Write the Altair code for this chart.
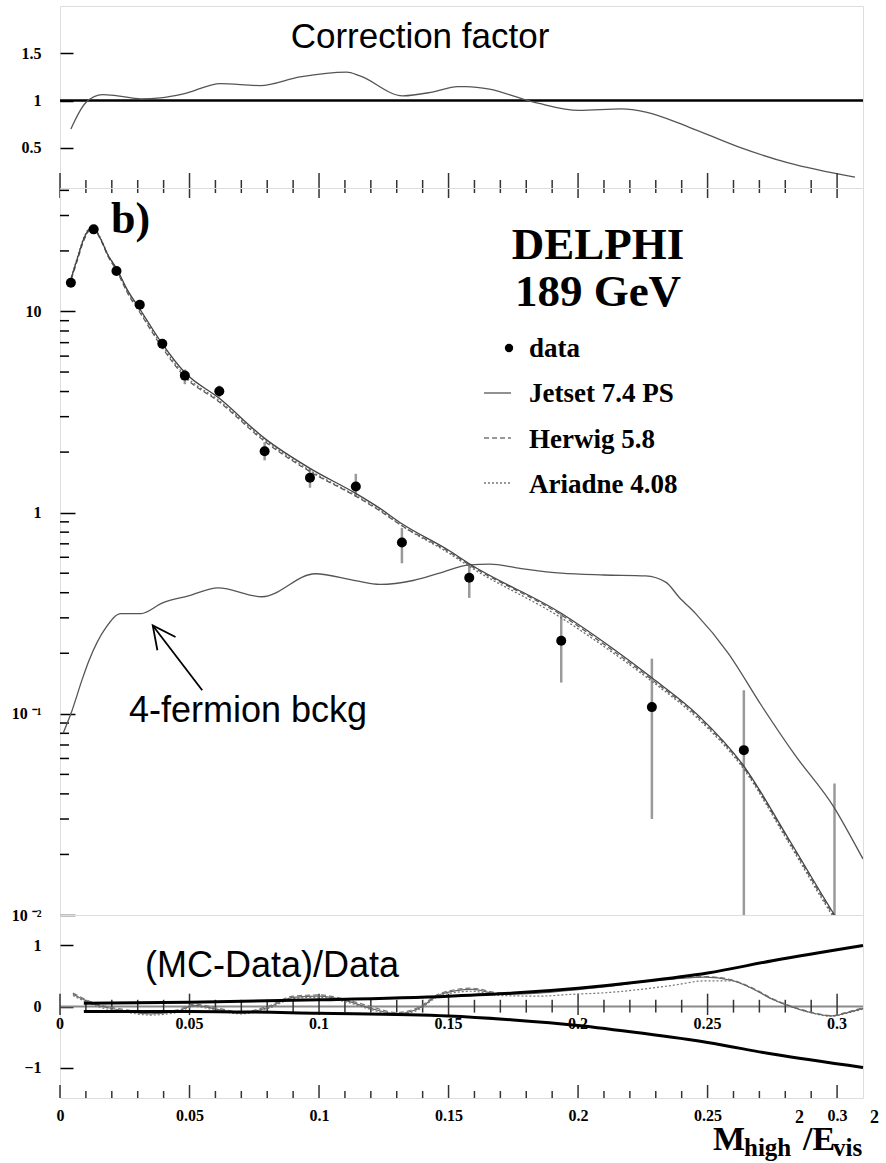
import altair as alt
import pandas as pd

# ---------------- values ----------------
# top panel: correction factor
corr_x = [0.0042, 0.0100, 0.0164, 0.0222, 0.0312, 0.0388, 0.0477, 0.0619, 0.0773,
          0.0927, 0.1107, 0.1158, 0.1323, 0.1438, 0.1535, 0.1568, 0.1658, 0.1785,
          0.1850, 0.2004, 0.2169, 0.2262, 0.2427, 0.2619, 0.2812, 0.3069]
corr_y = [0.70, 0.98, 1.063, 1.05, 1.018, 1.028, 1.07, 1.18, 1.158,
          1.25, 1.30, 1.26, 1.05, 1.09, 1.147, 1.147, 1.12, 1.018,
          0.97, 0.895, 0.912, 0.877, 0.72, 0.51, 0.34, 0.19]

# main panel: data points with error bars
data_x = [0.0042, 0.0130, 0.0218, 0.0308, 0.0395, 0.0482, 0.0615, 0.0790,
          0.0965, 0.1142, 0.1320, 0.1580, 0.1935, 0.2285, 0.2640, 0.2990]
data_y = [13.9, 25.6, 15.9, 10.8, 6.91, 4.80, 4.01, 2.02,
          1.49, 1.35, 0.711, 0.475, 0.231, 0.108, 0.066, None]
data_lo = [13.3, 24.7, 15.2, 10.3, 6.55, 4.35, 3.75, 1.82,
           1.33, 1.20, 0.56, 0.377, 0.143, 0.030, 0.001, 0.001]
data_hi = [14.5, 26.5, 16.6, 11.3, 7.25, 5.15, 4.28, 2.24,
           1.66, 1.56, 0.84, 0.557, 0.315, 0.188, 0.131, 0.045]

# main panel: MC predictions
mc_x = [0.0035, 0.0065, 0.0095, 0.0125, 0.0155, 0.0185, 0.0218, 0.0260, 0.0310,
        0.0395, 0.0480, 0.0615, 0.0790, 0.0965, 0.1140, 0.1235, 0.1320, 0.1500,
        0.1580, 0.1935, 0.2130, 0.2285, 0.2465, 0.2640, 0.2812, 0.2990, 0.3030]
jetset = [13.5, 18.0, 23.5, 26.3, 23.2, 19.1, 16.4, 12.8, 10.2,
          6.9, 5.0, 3.7, 2.34, 1.66, 1.25, 1.05, 0.88, 0.65,
          0.557, 0.316, 0.213, 0.151, 0.098, 0.055, 0.024, 0.0100, 0.0083]
herwig = [13.3, 17.6, 23.0, 26.0, 23.0, 18.8, 16.0, 12.4, 9.8,
          6.6, 4.75, 3.55, 2.26, 1.60, 1.21, 1.02, 0.86, 0.64,
          0.55, 0.31, 0.208, 0.148, 0.096, 0.054, 0.0235, 0.0098, 0.0082]
ariadne = [13.6, 18.2, 23.8, 26.5, 23.4, 19.2, 16.3, 12.6, 10.0,
           6.75, 4.85, 3.6, 2.3, 1.62, 1.22, 1.03, 0.86, 0.63,
           0.54, 0.30, 0.203, 0.145, 0.094, 0.053, 0.023, 0.0096, 0.0081]

# main panel: 4-fermion background
bg_x = [0.0012, 0.0042, 0.0087, 0.0112, 0.0177, 0.0235, 0.0312, 0.0396, 0.0496,
        0.0610, 0.0780, 0.0985, 0.1140, 0.1235, 0.1363, 0.1465, 0.1580, 0.1660,
        0.1770, 0.1935, 0.2100, 0.2260, 0.2340, 0.2390, 0.2454, 0.2580, 0.2708,
        0.2835, 0.2990, 0.3073, 0.3100]
bg_y = [0.080, 0.100, 0.150, 0.184, 0.268, 0.315, 0.315, 0.356, 0.386,
        0.423, 0.382, 0.497, 0.459, 0.440, 0.460, 0.500, 0.550, 0.555,
        0.530, 0.500, 0.490, 0.485, 0.450, 0.380, 0.315, 0.200, 0.110,
        0.063, 0.034, 0.022, 0.019]

# annotation arrow (data coordinates)
arrow_seg = ["shaft", "shaft", "head", "head", "head"]
arrow_ord = [0, 1, 0, 1, 2]
arrow_x = [0.0549, 0.0358, 0.0376, 0.0358, 0.0446]
arrow_y = [0.131, 0.275, 0.207, 0.275, 0.241]

# bottom panel: (MC-Data)/Data
env_x = [0.0092, 0.05, 0.10, 0.15, 0.175, 0.20, 0.225, 0.25, 0.275, 0.31]
env_up = [0.055, 0.07, 0.11, 0.17, 0.22, 0.30, 0.41, 0.55, 0.75, 1.0]
env_dn = [-0.08, -0.08, -0.11, -0.155, -0.22, -0.31, -0.44, -0.59, -0.78, -1.0]

r_x = [0.005, 0.013, 0.025, 0.035, 0.045, 0.052, 0.060, 0.070, 0.080, 0.090, 0.100,
       0.110, 0.120, 0.130, 0.138, 0.147, 0.159, 0.170, 0.185, 0.198, 0.212, 0.224,
       0.237, 0.249, 0.259, 0.267, 0.275, 0.282, 0.288, 0.298, 0.304, 0.310]
r_jetset = [0.20, 0.04, -0.07, -0.12, -0.08, 0.02, -0.04, -0.11, -0.02, 0.15, 0.17,
            0.10, -0.03, -0.12, -0.04, 0.20, 0.28, 0.20, 0.22, 0.27, 0.33, 0.40,
            0.45, 0.48, 0.43, 0.30, 0.12, 0.00, -0.08, -0.155, -0.10, -0.03]
r_herwig = [0.22, 0.06, -0.05, -0.10, -0.06, 0.04, -0.02, -0.09, 0.00, 0.17, 0.19,
            0.12, 0.00, -0.10, -0.02, 0.22, 0.30, 0.22, 0.24, 0.28, 0.34, 0.41,
            0.46, 0.49, 0.44, 0.31, 0.13, 0.01, -0.07, -0.15, -0.09, -0.02]
r_ariadne = [0.18, 0.02, -0.09, -0.14, -0.10, 0.00, -0.06, -0.12, -0.04, 0.13, 0.15,
             0.08, -0.05, -0.14, -0.06, 0.18, 0.25, 0.18, 0.17, 0.20, 0.23, 0.28,
             0.35, 0.42, 0.42, 0.30, 0.12, 0.00, -0.08, -0.16, -0.11, -0.04]

# axis ticks and labels
minor_ticks = [0.01, 0.02, 0.03, 0.04, 0.06, 0.07, 0.08, 0.09, 0.11, 0.12, 0.13, 0.14,
               0.16, 0.17, 0.18, 0.19, 0.21, 0.22, 0.23, 0.24, 0.26, 0.27, 0.28, 0.29]
major_ticks = [0.0, 0.05, 0.10, 0.15, 0.20, 0.25, 0.30]
major_labels = ["0", "0.05", "0.1", "0.15", "0.2", "0.25", "0.3"]
log_minor = [0.02, 0.03, 0.04, 0.05, 0.06, 0.07, 0.08, 0.09,
             0.2, 0.3, 0.4, 0.5, 0.6, 0.7, 0.8, 0.9,
             2, 3, 4, 5, 6, 7, 8, 9, 20, 30, 40]

# ---------------- layout ----------------
W = 803
H_TOP, H_MAIN, H_BOT = 182, 727, 183
SERIF = "Liberation Serif"
SANS = "Liberation Sans"
one = pd.DataFrame({"k": [0]})

xscale = alt.Scale(domain=[0.0, 0.31], nice=False, zero=False)


def X(f="x", axis=None):
    return alt.X(f"{f}:Q", scale=xscale, axis=axis)


def yaxis_common(ts):
    return dict(orient="left", offset=-ts, tickSize=ts, tickColor="black", tickWidth=1.5,
                domain=False, grid=False, labelFont=SERIF, labelFontWeight="bold",
                labelFontSize=16, labelColor="black", labelPadding=19, title=None,
                minExtent=54 + ts, labelFlush=False, labelOverlap=False, labelBound=False)


def label(txt, x, y, size, font=SANS, weight="normal", align="left", baseline="alphabetic"):
    return alt.Chart(one).mark_text(
        text=txt, font=font, fontSize=size, fontWeight=weight, align=align,
        baseline=baseline, color="black"
    ).encode(x=alt.value(x), y=alt.value(y))


minor_df = pd.DataFrame({"x": minor_ticks})
major_df = pd.DataFrame({"x": major_ticks, "lab": major_labels})

# ---------- top panel ----------
top_ys = alt.Scale(domain=[0.075, 2.0], nice=False, zero=False)
top_ya = alt.Axis(values=[0.5, 1.0, 1.5], format="~g", **yaxis_common(13))


def Yt(f):
    return alt.Y(f"{f}:Q", scale=top_ys, axis=top_ya)


corr_df = pd.DataFrame({"x": corr_x, "y": corr_y})
unity_df = pd.DataFrame({"y": [1.0]})

top = alt.layer(
    alt.Chart(unity_df).mark_rule(color="black", strokeWidth=2.5).encode(y=Yt("y")),
    alt.Chart(corr_df).mark_line(color="#555", strokeWidth=1.3, interpolate="monotone").encode(
        x=X(), y=Yt("y")),
    alt.Chart(minor_df).mark_rule(color="#333", strokeWidth=1.5).encode(
        x=X(), y=alt.value(H_TOP - 8), y2=alt.value(H_TOP + 5)),
    alt.Chart(major_df).mark_rule(color="#333", strokeWidth=1.5).encode(
        x=X(), y=alt.value(H_TOP - 15), y2=alt.value(H_TOP + 10)),
    label("Correction factor", 360, 42, 35, align="center"),
).properties(width=W, height=H_TOP)

# ---------- main panel ----------
main_ys = alt.Scale(type="log", domain=[0.01, 41.1], nice=False)
main_ya = alt.Axis(
    values=[0.01, 0.1, 1, 10],
    labelExpr="datum.value > 5 ? '10' : datum.value > 0.5 ? '1' : datum.value > 0.05 ? '10 ⁻¹' : '10 ⁻²'",
    **yaxis_common(15))


def Ym(f):
    return alt.Y(f"{f}:Q", scale=main_ys, axis=main_ya)


pts_df = pd.DataFrame({"x": data_x, "y": data_y, "lo": data_lo, "hi": data_hi})
mc_df = pd.DataFrame({"x": mc_x, "jetset": jetset, "herwig": herwig, "ariadne": ariadne})
bg_df = pd.DataFrame({"x": bg_x, "y": bg_y})
arrow_df = pd.DataFrame({"seg": arrow_seg, "o": arrow_ord, "x": arrow_x, "y": arrow_y})
logminor_df = pd.DataFrame({"v": log_minor})

main_layers = [
    alt.Chart(logminor_df).mark_rule(color="black", strokeWidth=1.5).encode(
        y=Ym("v"), x=alt.value(0), x2=alt.value(9)),
    alt.Chart(pts_df).mark_rule(color="#9a9a9a", strokeWidth=2.5, clip=True).encode(
        x=X(), y=Ym("lo"), y2="hi:Q"),
    alt.Chart(bg_df).mark_line(color="#555", strokeWidth=1.3, interpolate="monotone", clip=True).encode(
        x=X(), y=Ym("y")),
    alt.Chart(mc_df).mark_line(color="#555", strokeWidth=1.2, strokeDash=[5, 3],
                               interpolate="monotone", clip=True).encode(x=X(), y=Ym("herwig")),
    alt.Chart(mc_df).mark_line(color="#666", strokeWidth=1.2, strokeDash=[2, 2],
                               interpolate="monotone", clip=True).encode(x=X(), y=Ym("ariadne")),
    alt.Chart(mc_df).mark_line(color="#444", strokeWidth=1.3,
                               interpolate="monotone", clip=True).encode(x=X(), y=Ym("jetset")),
    alt.Chart(pts_df).mark_circle(color="black", size=100, opacity=1, clip=True).encode(
        x=X(), y=Ym("y")),
    alt.Chart(arrow_df).mark_line(color="black", strokeWidth=1.8).encode(
        x=X(), y=Ym("y"), detail="seg:N", order="o:Q"),
    label("b)", 51, 45, 44, font=SERIF, weight="bold"),
    label("DELPHI", 538, 71, 45, font=SERIF, weight="bold", align="center"),
    label("189  GeV", 538, 118, 45, font=SERIF, weight="bold", align="center"),
    alt.Chart(one).mark_circle(color="black", size=70, opacity=1).encode(
        x=alt.value(449), y=alt.value(160)),
    alt.Chart(one).mark_rule(color="#555", strokeWidth=1.3).encode(
        x=alt.value(424), x2=alt.value(451), y=alt.value(205)),
    alt.Chart(one).mark_rule(color="#777", strokeWidth=1.3, strokeDash=[5, 3]).encode(
        x=alt.value(424), x2=alt.value(451), y=alt.value(250)),
    alt.Chart(one).mark_rule(color="#777", strokeWidth=1.3, strokeDash=[2, 2]).encode(
        x=alt.value(424), x2=alt.value(451), y=alt.value(295)),
    label("data", 469, 169, 27, font=SERIF, weight="bold"),
    label("Jetset 7.4 PS", 469, 214, 27, font=SERIF, weight="bold"),
    label("Herwig 5.8", 469, 260, 27, font=SERIF, weight="bold"),
    label("Ariadne 4.08", 469, 305, 27, font=SERIF, weight="bold"),
    label("4-fermion bckg", 188, 534, 36, align="center"),
]
main = alt.layer(*main_layers).properties(width=W, height=H_MAIN)

# ---------- bottom panel ----------
bot_ys = alt.Scale(domain=[-1.5, 1.5], nice=False, zero=False)
bot_ya = alt.Axis(values=[-1, 0, 1], format="d", **yaxis_common(13))
bot_xa = alt.Axis(values=major_ticks, format=".2~f", ticks=False, domain=False, grid=False,
                  labelFont=SERIF, labelFontWeight="bold", labelFontSize=16, labelColor="black",
                  labelPadding=9, title=None, labelFlush=False, labelOverlap=False, labelBound=False)


def Xb(f="x"):
    return X(f, axis=bot_xa)


def Yb(f):
    return alt.Y(f"{f}:Q", scale=bot_ys, axis=bot_ya)


def Ybd(v):
    return alt.YDatum(v, scale=bot_ys, axis=bot_ya)


env_df = pd.DataFrame({"x": env_x, "up": env_up, "dn": env_dn})
ratio_df = pd.DataFrame({"x": r_x, "jetset": r_jetset, "herwig": r_herwig, "ariadne": r_ariadne})
zero_df = pd.DataFrame({"y": [0.0]})

bot_layers = [
    alt.Chart(zero_df).mark_rule(color="#8a8a8a", strokeWidth=2).encode(y=Yb("y")),
    alt.Chart(minor_df).mark_rule(color="#333", strokeWidth=1.5).encode(
        x=Xb(), y=Ybd(0.11), y2=alt.Y2Datum(-0.10)),
    alt.Chart(major_df).mark_rule(color="#333", strokeWidth=1.5).encode(
        x=Xb(), y=Ybd(0.21), y2=alt.Y2Datum(-0.14)),
    alt.Chart(minor_df).mark_rule(color="#333", strokeWidth=1.5).encode(
        x=Xb(), y=Ybd(-1.5), y2=alt.Y2Datum(-1.385)),
    alt.Chart(major_df).mark_rule(color="#333", strokeWidth=1.5).encode(
        x=Xb(), y=Ybd(-1.5), y2=alt.Y2Datum(-1.287)),
    alt.Chart(major_df).mark_text(font=SERIF, fontWeight="bold", fontSize=16, color="black",
                                  baseline="middle", dy=17).encode(
        x=Xb(), y=Ybd(0), text="lab:N"),
    alt.Chart(ratio_df).mark_line(color="#777", strokeWidth=1.2, strokeDash=[5, 3],
                                  interpolate="monotone").encode(x=Xb(), y=Yb("herwig")),
    alt.Chart(ratio_df).mark_line(color="#777", strokeWidth=1.2, strokeDash=[2, 2],
                                  interpolate="monotone").encode(x=Xb(), y=Yb("ariadne")),
    alt.Chart(ratio_df).mark_line(color="#666", strokeWidth=1.2,
                                  interpolate="monotone").encode(x=Xb(), y=Yb("jetset")),
    alt.Chart(env_df).mark_line(color="black", strokeWidth=3, interpolate="monotone").encode(
        x=Xb(), y=Yb("up")),
    alt.Chart(env_df).mark_line(color="black", strokeWidth=3, interpolate="monotone").encode(
        x=Xb(), y=Yb("dn")),
    label("(MC-Data)/Data", 212, 62, 36, align="center"),
    label("M", 653, 235, 34, font=SERIF, weight="bold"),
    label("high", 684, 241, 25, font=SERIF, weight="bold"),
    label("2", 735, 208, 18, font=SERIF, weight="bold"),
    label("/E", 743, 235, 34, font=SERIF, weight="bold"),
    label("vis", 773, 241, 25, font=SERIF, weight="bold"),
    label("2", 810, 208, 18, font=SERIF, weight="bold"),
]
bot = alt.layer(*bot_layers).properties(width=W, height=H_BOT)

chart = alt.vconcat(top, main, bot, spacing=0, bounds="flush").properties(
    padding={"left": 5, "top": 5, "right": 0, "bottom": 0}
).configure_view(stroke="black", strokeWidth=2).configure(background="white")

chart.save("out.html", embed_options={"renderer": "svg", "actions": False})
